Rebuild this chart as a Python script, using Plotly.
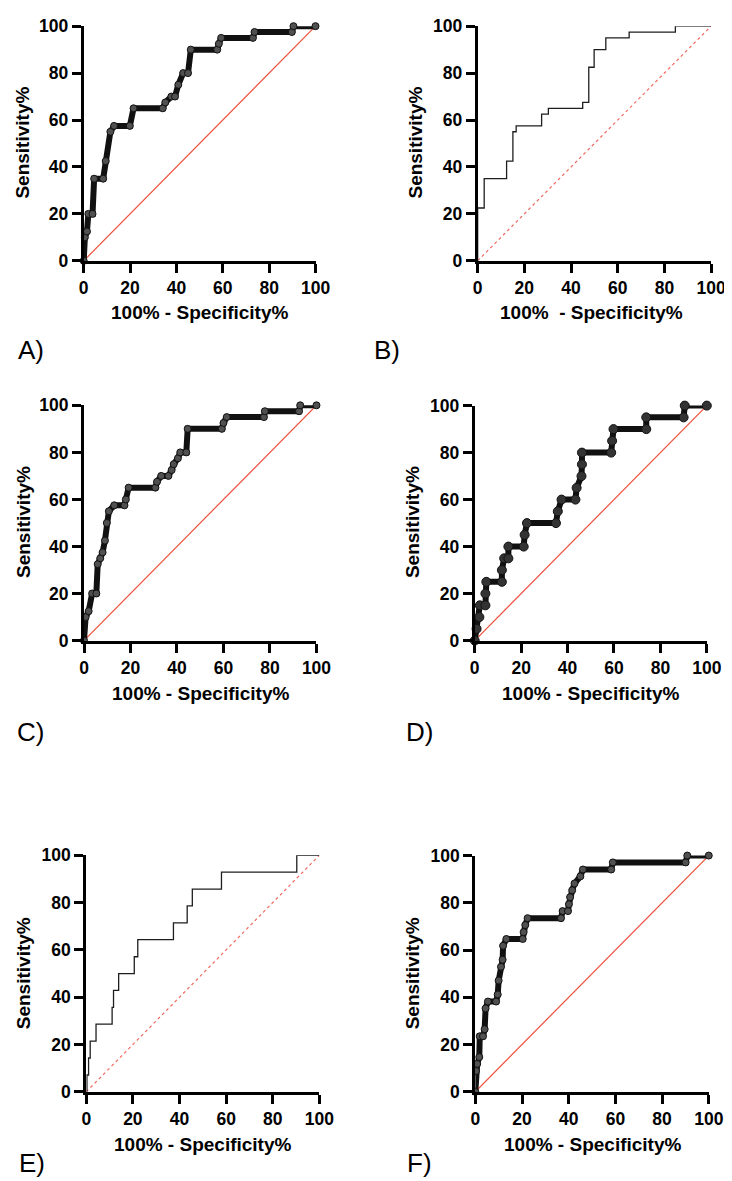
import plotly.graph_objects as go

W, H = 732, 1181

# ---------------- data ----------------
ticks = [0, 20, 40, 60, 80, 100]
tick_labels = ["0", "20", "40", "60", "80", "100"]
diag = [0, 100]

A_fpr = [0, 0.5, 1.4, 2.0, 3.8, 4.5, 8.4, 9.5, 11.5, 13.1, 19.9, 21.5, 34.1, 35.2, 37.8, 39.4, 40.8, 42.9, 45.0, 46.2,
         57.6, 58.3, 59.3, 73.0, 73.7, 89.8, 90.5, 100]
A_tpr = [0, 10, 12.5, 20, 20, 35, 35, 42.5, 55, 57.5, 57.5, 65, 65, 67.5, 70, 70, 75, 80, 80, 90,
         90, 92.5, 95, 95, 97.5, 97.5, 100, 100]

B_fpr = [0, 0, 2.8, 12.4, 15.1, 16.5, 27.4, 30.3, 45.0, 47.6, 49.9, 54.9, 64.9, 84.7, 100]
B_tpr = [0, 22.5, 35, 42.5, 55, 57.5, 62.5, 65, 67.5, 82.5, 90, 95, 97.5, 100, 100]

C_fpr = [0, 0.7, 2.0, 3.5, 5.3, 5.9, 7.0, 8.0, 9.0, 9.8, 10.7, 13.0, 17.4, 18.0, 19.2, 30.7, 31.4, 33.2, 36.3, 37.7,
         38.6, 40.4, 41.4, 44.0, 44.6, 59.3, 60.0, 61.4, 77.4, 77.8, 92.5, 93.0, 100]
C_tpr = [0, 10, 12.5, 20, 20, 32.5, 35, 37.5, 42.5, 50, 55, 57.5, 57.5, 60, 65, 65, 67.5, 70, 70, 72.5,
         75, 77.5, 80, 80, 90, 90, 92.5, 95, 95, 97.5, 97.5, 100, 100]

D_fpr = [0, 0.8, 2.0, 2.2, 4.6, 4.6, 5.0, 11.7, 11.7, 12.7, 14.5, 14.5, 21.1, 21.5, 22.5, 35.0, 35.8, 37.4, 43.4, 43.9,
         46.0, 46.2, 46.2, 58.8, 59.2, 59.8, 73.9, 73.9, 90.0, 90.5, 100]
D_tpr = [0, 5, 10, 15, 15, 20, 25, 25, 30, 35, 35, 40, 40, 45, 50, 50, 55, 60, 60, 65,
         70, 75, 80, 80, 85, 90, 90, 95, 95, 100, 100]

E_fpr = [0, 0.3, 1.0, 1.7, 4.2, 11.1, 11.7, 13.9, 20.6, 22.1, 37.4, 43.3, 45.5, 58.0, 90.3, 100]
E_tpr = [0, 7.1, 14.3, 21.4, 28.6, 35.7, 42.9, 50, 57.1, 64.3, 71.4, 78.6, 85.7, 92.9, 100, 100]

F_fpr = [0, 0.3, 0.8, 1.7, 1.9, 3.3, 4.0, 4.4, 5.4, 8.9, 9.6, 10.0, 11.0, 11.7, 11.9, 13.3, 20.3, 20.7, 21.4, 22.4,
         36.7, 37.4, 39.7, 40.1, 40.6, 41.5, 42.5, 45.0, 46.1, 58.2, 58.9, 90.1, 90.8, 100]
F_tpr = [0, 8.8, 11.8, 14.7, 23.5, 23.5, 26.5, 35.3, 38.2, 38.2, 41.2, 47.1, 52.9, 55.9, 61.8, 64.7, 64.7, 67.6, 70.6, 73.5,
         73.5, 76.5, 76.5, 79.4, 82.4, 85.3, 88.2, 91.2, 94.1, 94.1, 97.1, 97.1, 100, 100]

panel_names = ["A)", "B)", "C)", "D)", "E)", "F)"]
x_title = "100% - Specificity%"
x_title_B = "100% \u00a0- Specificity%"
y_title = "Sensitivity%"

# ---------------- layout geometry (pixels) ----------------
boxes = [
    (72.7, 311.0, 8.3, 247.0),
    (477.7, 717.7, 8.3, 247.0),
    (73.0, 312.0, 394.0, 633.3),
    (474.7, 713.3, 394.3, 633.3),
    (75.3, 315.0, 851.7, 1092.3),
    (475.3, 715.3, 852.0, 1092.3),
]
xtitle_pos = [(192, 300), (595, 300), (193, 687), (594, 687), (195, 1146), (596, 1146)]
ytitle_pos = [(10, 127), (414, 127), (11, 513), (411, 513), (11, 972), (411, 972)]
label_pos = [(18, 338), (385, 338), (18, 726), (418, 726), (20, 1165), (418, 1165)]

FONT = "Liberation Sans, Arial, Helvetica, sans-serif"


def px(x):
    return x / W


def py(y):
    return 1 - y / H


fig = go.Figure()

curves = [
    (A_fpr, A_tpr, "dense"),
    (B_fpr, B_tpr, "step"),
    (C_fpr, C_tpr, "dense"),
    (D_fpr, D_tpr, "big"),
    (E_fpr, E_tpr, "step"),
    (F_fpr, F_tpr, "dense"),
]

layout = dict(
    width=W, height=H,
    margin=dict(l=0, r=0, t=0, b=0),
    paper_bgcolor="white", plot_bgcolor="white",
    showlegend=False,
    font=dict(family=FONT, color="black"),
)

bold_ticks = [f"<b>{t}</b>" for t in tick_labels]

annotations = []
for i, ((fx, fy, style), box) in enumerate(zip(curves, boxes)):
    n = i + 1
    xa = "x" if n == 1 else f"x{n}"
    ya = "y" if n == 1 else f"y{n}"
    x0, x1, y0, y1 = box
    axis_common = dict(
        range=[0, 100], tickvals=ticks, ticktext=bold_ticks,
        showline=True, linewidth=3, linecolor="black", mirror=False,
        ticks="outside", ticklen=9, tickwidth=2.5, tickcolor="black",
        showgrid=False, zeroline=False,
        tickfont=dict(family=FONT, size=17.5, color="black"),
        fixedrange=True, layer="above traces",
    )
    layout[f"xaxis{'' if n == 1 else n}"] = dict(axis_common, domain=[px(x0), px(x1)], anchor=ya)
    layout[f"yaxis{'' if n == 1 else n}"] = dict(axis_common, domain=[py(y1), py(y0)], anchor=xa)

    dotted = style == "step"
    fig.add_trace(go.Scatter(
        x=diag, y=diag, xaxis=xa, yaxis=ya, mode="lines",
        line=dict(color="#f26a5e" if dotted else "#ee4f3c", width=1.2, dash="dot" if dotted else "solid"),
        hoverinfo="skip",
    ))

    if style == "step":
        fig.add_trace(go.Scatter(
            x=fx, y=fy, xaxis=xa, yaxis=ya, mode="lines",
            line=dict(color="#1e1e1e", width=1.3, shape="hv"),
            cliponaxis=False,
        ))
    elif style == "dense":
        fig.add_trace(go.Scatter(
            x=fx, y=fy, xaxis=xa, yaxis=ya, mode="lines+markers",
            line=dict(color="#111111", width=6),
            marker=dict(size=7, color="#505050", line=dict(color="#111111", width=1)),
            cliponaxis=False,
        ))
    else:
        fig.add_trace(go.Scatter(
            x=fx, y=fy, xaxis=xa, yaxis=ya, mode="lines+markers",
            line=dict(color="#111111", width=6),
            marker=dict(size=9, color="#333333", line=dict(color="#111111", width=1)),
            cliponaxis=False,
        ))

    tx, ty = xtitle_pos[i]
    annotations.append(dict(
        x=px(tx), y=py(ty), xref="paper", yref="paper", xanchor="center", yanchor="middle",
        text=f"<b>{x_title_B if n == 2 else x_title}</b>", showarrow=False,
        font=dict(family=FONT, size=19, color="black"),
    ))
    vx, vy = ytitle_pos[i]
    annotations.append(dict(
        x=px(vx), y=py(vy), xref="paper", yref="paper", xanchor="center", yanchor="middle",
        text=f"<b>{y_title}</b>", showarrow=False, textangle=-90,
        font=dict(family=FONT, size=19, color="black"),
    ))
    lx, ly = label_pos[i]
    annotations.append(dict(
        x=px(lx), y=py(ly), xref="paper", yref="paper", xanchor="center", yanchor="middle",
        text=panel_names[i], showarrow=False,
        font=dict(family=FONT, size=26, color="black"),
    ))

layout["annotations"] = annotations
fig.update_layout(**layout)
fig.write_html("out.html")
